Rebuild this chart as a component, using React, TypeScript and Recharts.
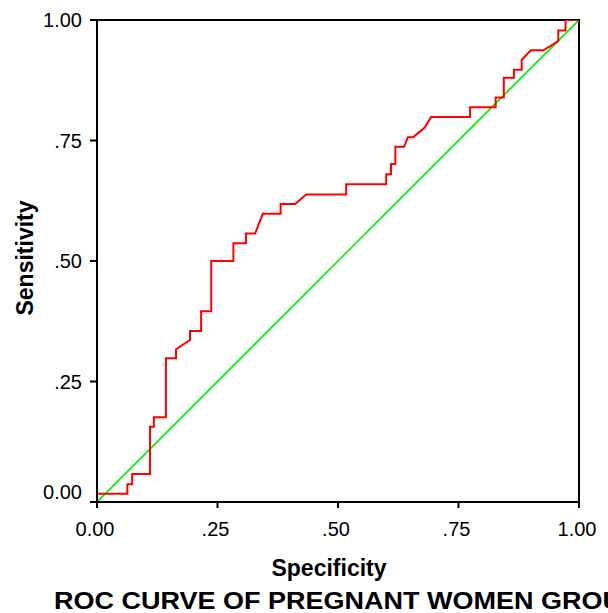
import React from 'react';
import { LineChart, Line, XAxis, YAxis, ReferenceArea } from 'recharts';

// ROC curve: (1 - specificity axis value, sensitivity) step points
const rocSpecificity = [
  0, 0, 0.063, 0.063, 0.073, 0.073, 0.110, 0.110, 0.118, 0.118, 0.143, 0.143,
  0.164, 0.164, 0.193, 0.193, 0.216, 0.216, 0.237, 0.237, 0.283, 0.283, 0.309, 0.309,
  0.328, 0.344, 0.381, 0.381, 0.411, 0.434, 0.517, 0.517, 0.600, 0.600, 0.610, 0.610,
  0.619, 0.619, 0.637, 0.645, 0.656, 0.680, 0.693, 0.774, 0.774, 0.827, 0.827, 0.844,
  0.844, 0.865, 0.865, 0.881, 0.881, 0.900, 0.926, 0.957, 0.957, 0.972, 0.972, 1.0,
];
const rocSensitivity = [
  0, 0.017, 0.017, 0.037, 0.037, 0.058, 0.058, 0.156, 0.156, 0.176, 0.176, 0.298,
  0.298, 0.317, 0.336, 0.355, 0.355, 0.396, 0.396, 0.500, 0.500, 0.537, 0.537, 0.557,
  0.557, 0.598, 0.598, 0.618, 0.618, 0.638, 0.638, 0.659, 0.659, 0.680, 0.680, 0.701,
  0.701, 0.737, 0.737, 0.757, 0.757, 0.777, 0.799, 0.799, 0.819, 0.819, 0.839, 0.839,
  0.880, 0.880, 0.897, 0.897, 0.917, 0.937, 0.937, 0.956, 0.978, 0.978, 1.0, 1.0,
];
const referenceValues = [0, 1];

const tickValues = [0, 0.25, 0.5, 0.75, 1];
const xTickLabels = ['0.00', '.25', '.50', '.75', '1.00'];
const yTickLabels = ['0.00', '.25', '.50', '.75', '1.00'];

const xTitle = 'Specificity';
const yTitle = 'Sensitivity';
const chartTitle = 'ROC CURVE OF PREGNANT WOMEN GROUP';

const rocData = rocSpecificity.map((x, i) => ({ x, y: rocSensitivity[i] }));
const diagData = referenceValues.map((v) => ({ x: v, y: v }));

const FONT = '"Liberation Sans", Arial, Helvetica, sans-serif';

const XTick = (props: any) => {
  const { x, y, payload } = props;
  const idx = tickValues.indexOf(payload.value);
  return (
    <text x={x - 2} y={y} dy="0.71em" textAnchor="middle" fontFamily={FONT} fontSize={20} fill="#000">
      {xTickLabels[idx]}
    </text>
  );
};

const YTick = (props: any) => {
  const { x, y, payload } = props;
  const idx = tickValues.indexOf(payload.value);
  const shift = payload.value === 0 ? -10 : 0;
  return (
    <text x={x} y={y + shift} dy="0.355em" textAnchor="end" fontFamily={FONT} fontSize={20} fill="#000">
      {yTickLabels[idx]}
    </text>
  );
};

export default function App() {
  return (
    <div style={{ position: 'absolute', left: 0, top: 0, width: 608, height: 613, background: '#fff' }}>
      <LineChart
        width={608}
        height={613}
        margin={{ top: 20, right: 29, bottom: 0, left: 0 }}
      >
        <XAxis
          type="number"
          dataKey="x"
          domain={[0, 1]}
          ticks={tickValues}
          height={111}
          tick={<XTick />}
          tickSize={6}
          tickMargin={14}
          axisLine={{ stroke: '#000', strokeWidth: 2 }}
          tickLine={{ stroke: '#000', strokeWidth: 2 }}
          allowDataOverflow
        />
        <YAxis
          type="number"
          dataKey="y"
          domain={[0, 1]}
          ticks={tickValues}
          width={97}
          tick={<YTick />}
          tickSize={7}
          tickMargin={8}
          axisLine={{ stroke: '#000', strokeWidth: 2 }}
          tickLine={{ stroke: '#000', strokeWidth: 2 }}
          allowDataOverflow
        />
        <ReferenceArea x1={0} x2={1} y1={0} y2={1} fill="none" fillOpacity={0} stroke="#000" strokeWidth={2} />
        <Line
          data={diagData}
          dataKey="y"
          type="linear"
          stroke="#00ee00"
          strokeWidth={1.6}
          dot={false}
          activeDot={false}
          isAnimationActive={false}
        />
        <Line
          data={rocData}
          dataKey="y"
          type="linear"
          stroke="#ff0000"
          strokeWidth={2}
          dot={false}
          activeDot={false}
          isAnimationActive={false}
        />
      </LineChart>
      <svg
        width={608}
        height={613}
        style={{ position: 'absolute', left: 0, top: 0, pointerEvents: 'none', overflow: 'hidden' }}
      >
        <text x={329} y={576} textAnchor="middle" fontFamily={FONT} fontSize={23} fontWeight="bold" fill="#000">
          {xTitle}
        </text>
        <text
          x={33}
          y={258}
          transform="rotate(-90 33 258)"
          textAnchor="middle"
          fontFamily={FONT}
          fontSize={23}
          fontWeight="bold"
          fill="#000"
        >
          {yTitle}
        </text>
        <text
          x={54}
          y={609}
          fontFamily={FONT}
          fontSize={23}
          fontWeight="bold"
          fill="#000"
          textLength={586}
          lengthAdjust="spacingAndGlyphs"
        >
          {chartTitle}
        </text>
      </svg>
    </div>
  );
}
